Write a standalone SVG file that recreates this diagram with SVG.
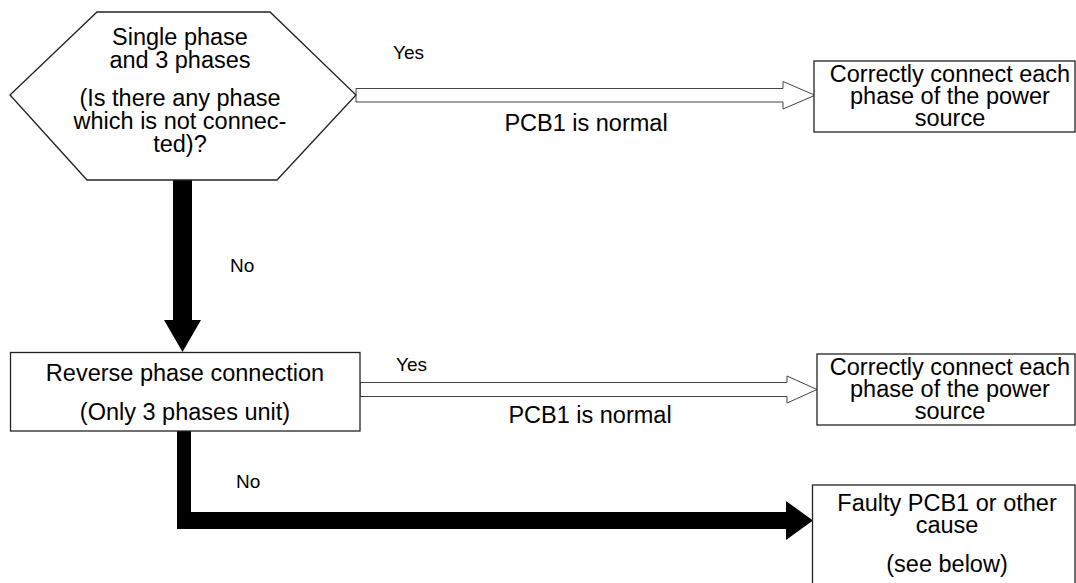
<svg xmlns="http://www.w3.org/2000/svg" width="1076" height="583" viewBox="0 0 1076 583">
<style>
.shape{fill:#fff;stroke:#222;stroke-width:1.3}
.hollow{fill:#fff;stroke:#444;stroke-width:1}
.solid{fill:#000;stroke:none}
text{font-family:"Liberation Sans",Arial,sans-serif;fill:#000}
.t{font-size:23.5px;text-anchor:middle}
.l{font-size:19px}
.m{font-size:23.5px;text-anchor:middle}
</style>
<rect width="1076" height="583" fill="#fff"/>
<g id="connectors">
<polygon class="hollow" points="356,88.5 783,88.5 783,81.5 815,95.25 783,109 783,102 356,102"/>
<polygon class="hollow" points="360,382.5 787,382.5 787,376 817,389.5 787,403 787,396.5 360,396.5"/>
<polygon class="solid" points="173,180 192,180 192,320 201,320 182.5,352 164,320 173,320"/>
<polygon class="solid" points="177,431 191,431 191,512 786,512 786,501 813,520.5 786,540 786,529 177,529"/>
<text class="l" x="393" y="59">Yes</text>
<text class="m" x="586" y="131">PCB1 is normal</text>
<text class="l" x="230" y="272">No</text>
<text class="l" x="396" y="371">Yes</text>
<text class="m" x="590" y="423">PCB1 is normal</text>
<text class="l" x="236" y="488">No</text>
</g>
<g id="decision1">
<polygon class="shape" points="10,95 97,12 270,12 356,95 277,180 87,180"/>
<text class="t" x="180" y="45">Single phase</text>
<text class="t" x="180" y="68">and 3 phases</text>
<text class="t" x="180" y="106">(Is there any phase</text>
<text class="t" x="180" y="129">which is not connec-</text>
<text class="t" x="180" y="152">ted)?</text>
</g>
<g id="box1">
<rect class="shape" x="814" y="61" width="261" height="71"/>
<text class="t" x="950" y="82">Correctly connect each</text>
<text class="t" x="950" y="104">phase of the power</text>
<text class="t" x="950" y="126">source</text>
</g>
<g id="decision2">
<rect class="shape" x="10.5" y="352.5" width="349.5" height="78.5"/>
<text class="t" x="185" y="381">Reverse phase connection</text>
<text class="t" x="185" y="420">(Only 3 phases unit)</text>
</g>
<g id="box3">
<rect class="shape" x="817" y="354" width="258" height="71"/>
<text class="t" x="950" y="375">Correctly connect each</text>
<text class="t" x="950" y="397">phase of the power</text>
<text class="t" x="950" y="419">source</text>
</g>
<g id="box4">
<rect class="shape" x="812.5" y="485" width="262.5" height="110"/>
<text class="t" x="947" y="511">Faulty PCB1 or other</text>
<text class="t" x="947" y="533">cause</text>
<text class="t" x="947" y="572">(see below)</text>
</g>
</svg>
